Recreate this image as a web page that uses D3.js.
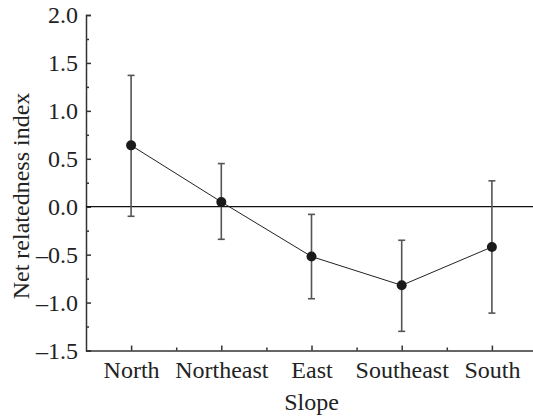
<!DOCTYPE html>
<html>
<head>
<meta charset="utf-8">
<script src="https://cdn.jsdelivr.net/npm/d3@7"></script>
<style>
    body { margin: 0; background: #fff; }
    svg text { font-family: "Liberation Serif", "Times New Roman", serif; fill: #222; }
</style>
</head>
<body>
<div id="chart"></div>
<script>
// values
const slopes = ['North', 'Northeast', 'East', 'Southeast', 'South'];
const means = [0.64, 0.05, -0.52, -0.82, -0.42];
const upper = [1.37, 0.45, -0.08, -0.35, 0.27];
const lower = [-0.10, -0.34, -0.96, -1.30, -1.11];
const yMajor = [-1.5, -1.0, -0.5, 0.0, 0.5, 1.0, 1.5, 2.0];
const yMinor = [-1.25, -0.75, -0.25, 0.25, 0.75, 1.25, 1.75];

const width = 533;
const height = 419;
const left = 86;

const svg = d3.select('#chart')
    .append('svg')
    .attr('width', width)
    .attr('height', height);

const x = d3.scalePoint()
    .domain(slopes)
    .range([left, 537])
    .padding(0.5);

const y = d3.scaleLinear()
    .domain([-1.5, 2])
    .range([350.5, 15]);

const axisColor = '#333';
const fontSize = '24px';

// left axis, ticks pointing inward
const yAxis = svg.append('g')
    .attr('transform', `translate(${left},0)`)
    .call(d3.axisLeft(y).tickValues(yMajor).tickSize(-5).tickPadding(8)
        .tickFormat(d => d3.format('.1f')(d).replace('−', '–')));
yAxis.selectAll('text').style('font-size', fontSize);

svg.append('g')
    .attr('transform', `translate(${left},0)`)
    .call(d3.axisLeft(y).tickValues(yMinor).tickSize(-3).tickFormat(''))
    .select('.domain').remove();

// bottom axis
const xAxis = svg.append('g')
    .attr('transform', `translate(0,${y(-1.5)})`)
    .call(d3.axisBottom(x).tickSize(-5).tickPadding(10).tickSizeOuter(0));
xAxis.selectAll('text').style('font-size', fontSize);

const step = x.step();
const xMinor = slopes.slice(0, -1).map(s => x(s) + step / 2);
svg.append('g')
    .attr('transform', `translate(0,${y(-1.5)})`)
    .call(d3.axisBottom(d3.scaleIdentity()).tickValues(xMinor).tickSize(-3).tickFormat(''))
    .select('.domain').remove();

svg.selectAll('.domain, .tick line')
    .attr('stroke', axisColor)
    .attr('stroke-width', 1.5);

// zero reference line
svg.append('line')
    .attr('x1', left)
    .attr('x2', width)
    .attr('y1', y(0))
    .attr('y2', y(0))
    .attr('stroke', '#111')
    .attr('stroke-width', 1.2);

// error bars
const bars = svg.append('g')
    .attr('stroke', '#555')
    .attr('stroke-width', 1.6);
slopes.forEach((s, i) => {
    const cx = x(s);
    bars.append('line').attr('x1', cx).attr('x2', cx).attr('y1', y(upper[i])).attr('y2', y(lower[i]));
    bars.append('line').attr('x1', cx - 3.5).attr('x2', cx + 3.5).attr('y1', y(upper[i])).attr('y2', y(upper[i]));
    bars.append('line').attr('x1', cx - 3.5).attr('x2', cx + 3.5).attr('y1', y(lower[i])).attr('y2', y(lower[i]));
});

// connecting line and points
const line = d3.line()
    .x((d, i) => x(slopes[i]))
    .y(d => y(d));

svg.append('path')
    .datum(means)
    .attr('d', line)
    .attr('fill', 'none')
    .attr('stroke', '#222')
    .attr('stroke-width', 1);

svg.selectAll('.pt')
    .data(means)
    .enter()
    .append('circle')
    .attr('class', 'pt')
    .attr('cx', (d, i) => x(slopes[i]))
    .attr('cy', d => y(d))
    .attr('r', 5)
    .attr('fill', '#1a1a1a');

// axis titles
svg.append('text')
    .attr('x', x('East'))
    .attr('y', 410)
    .attr('text-anchor', 'middle')
    .style('font-size', fontSize)
    .text('Slope');

svg.append('text')
    .attr('transform', `translate(29,196) rotate(-90)`)
    .attr('text-anchor', 'middle')
    .style('font-size', fontSize)
    .text('Net relatedness index');
</script>
</body>
</html>
